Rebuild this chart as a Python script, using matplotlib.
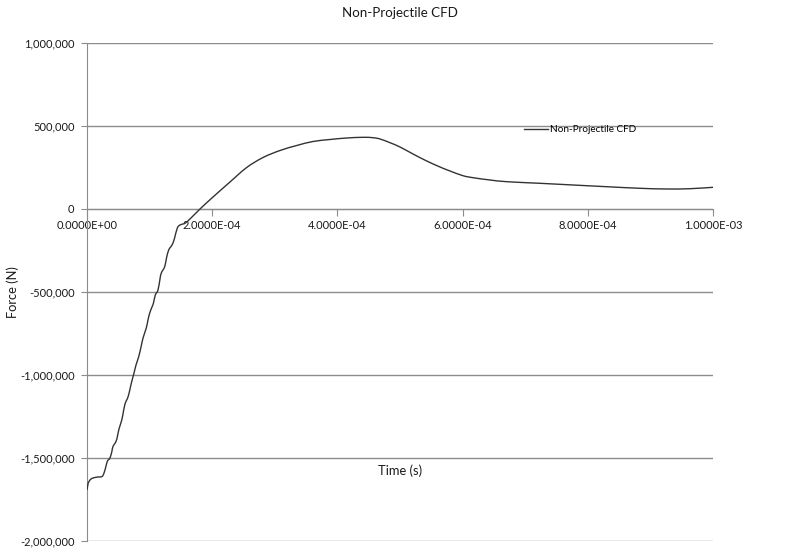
import matplotlib
matplotlib.use("Agg")
import matplotlib.pyplot as plt
from matplotlib.path import Path
from matplotlib.patches import PathPatch
from matplotlib.lines import Line2D
from matplotlib.ticker import FuncFormatter, MultipleLocator

# Force history of the non-projectile CFD run
time_s = [
    0.0, 0.016e-4, 0.032e-4, 0.064e-4, 0.112e-4, 0.176e-4, 0.240e-4, 0.272e-4,
    0.304e-4, 0.327e-4, 0.367e-4, 0.399e-4, 0.415e-4, 0.463e-4, 0.487e-4,
    0.511e-4, 0.551e-4, 0.575e-4, 0.607e-4, 0.655e-4, 0.687e-4, 0.714e-4,
    0.751e-4, 0.783e-4, 0.826e-4, 0.863e-4, 0.895e-4, 0.947e-4, 0.974e-4,
    1.002e-4, 1.038e-4, 1.062e-4, 1.091e-4, 1.134e-4, 1.166e-4, 1.187e-4,
    1.241e-4, 1.270e-4, 1.305e-4, 1.358e-4, 1.390e-4, 1.411e-4, 1.438e-4,
    1.462e-4, 1.513e-4, 1.565e-4, 1.645e-4, 1.805e-4, 2.013e-4, 2.284e-4,
    2.551e-4, 2.812e-4, 3.083e-4, 3.350e-4, 3.610e-4, 3.882e-4, 4.149e-4,
    4.409e-4, 4.569e-4, 4.681e-4, 4.840e-4, 5.000e-4, 5.208e-4, 5.427e-4,
    5.639e-4, 5.799e-4, 6.006e-4, 6.166e-4, 6.438e-4, 6.705e-4, 7.236e-4,
    7.764e-4, 8.302e-4, 8.834e-4, 9.260e-4, 9.633e-4, 10.0e-4,
]
force_n = [
    -1692800, -1656600, -1641600, -1626500, -1618700, -1614500, -1611400,
    -1590400, -1548200, -1518100, -1500000, -1457800, -1430700, -1400600,
    -1367500, -1325300, -1277100, -1234900, -1174700, -1132500, -1084300,
    -1040400, -988000, -939800, -889800, -831300, -777100, -716900, -668700,
    -626500, -590400, -566300, -518100, -488000, -421700, -385500, -347600,
    -295200, -247000, -216900, -186700, -156600, -120500, -102400, -92200,
    -86100, -60200, 0, 72300, 162700, 250000, 310200, 352400, 382500, 406600,
    418700, 427700, 431900, 429500, 421700, 399400, 373500, 331300, 289200,
    253000, 228900, 200600, 188600, 174700, 164500, 154800, 144600, 134300,
    124700, 120500, 122300, 130700,
]

series_name = "Non-Projectile CFD"
chart_title = "Non-Projectile CFD"
x_title = "Time (s)"
y_title = "Force (N)"

plt.rcParams["font.family"] = ["Lato", "DejaVu Sans"]

W, H = 798, 548
fig = plt.figure(figsize=(W / 100, H / 100), dpi=100)
ax = fig.add_axes([87 / W, 1 - 541 / H, (713 - 87) / W, (541 - 43) / H])

grid_c = "#8c8c8c"
text_c = "#1a1a1a"
line_c = "#333333"


def smooth_path(xs, ys, tension=1 / 6):
    """Smoothed line through the samples (cubic Bezier segments)."""
    n = len(xs)
    verts = [(xs[0], ys[0])]
    codes = [Path.MOVETO]
    for i in range(n - 1):
        x0, y0 = xs[max(i - 1, 0)], ys[max(i - 1, 0)]
        x1, y1 = xs[i], ys[i]
        x2, y2 = xs[i + 1], ys[i + 1]
        x3, y3 = xs[min(i + 2, n - 1)], ys[min(i + 2, n - 1)]
        c1 = (x1 + (x2 - x0) * tension, y1 + (y2 - y0) * tension)
        c2 = (x2 - (x3 - x1) * tension, y2 - (y3 - y1) * tension)
        verts += [c1, c2, (x2, y2)]
        codes += [Path.CURVE4] * 3
    return Path(verts, codes)


ax.set_xlim(0, 1.0e-3)
ax.set_ylim(-2_000_000, 1_000_000)

ax.add_patch(PathPatch(smooth_path(time_s, force_n), facecolor="none",
                       edgecolor=line_c, lw=1.0, joinstyle="round",
                       transform=ax.transData, zorder=3))

ax.xaxis.set_major_locator(MultipleLocator(2e-4))
ax.yaxis.set_major_locator(MultipleLocator(500_000))
ax.xaxis.set_major_formatter(FuncFormatter(lambda v, p: f"{v:.4E}"))
ax.yaxis.set_major_formatter(FuncFormatter(lambda v, p: f"{v:,.0f}"))

ax.grid(axis="y", color=grid_c, lw=1.0)
ax.set_axisbelow(True)

for s in ("top", "right"):
    ax.spines[s].set_visible(False)
ax.spines["left"].set_color(grid_c)
ax.spines["bottom"].set_color(grid_c)
ax.spines["bottom"].set_position(("data", 0))

ax.tick_params(axis="x", direction="out", length=5, color=grid_c,
               labelsize=8, labelcolor=text_c, pad=3)
ax.tick_params(axis="y", direction="out", length=4, color=grid_c,
               labelsize=8, labelcolor=text_c, pad=5)

fig.text(400 / W, 1 - 13 / H, chart_title, ha="center", va="center",
         fontsize=9.6, color=text_c)
fig.text(400 / W, 1 - 471 / H, x_title, ha="center", va="center",
         fontsize=9.3, color=text_c)
fig.text(13 / W, 1 - 292 / H, y_title, ha="center", va="center",
         rotation=90, fontsize=9.3, color=text_c)

handle = Line2D([], [], color=line_c, lw=1.0)
ax.legend([handle], [series_name], loc="center left",
          bbox_to_anchor=(524 / W, 1 - 130 / H),
          bbox_transform=fig.transFigure, frameon=False, fontsize=7.2,
          handlelength=2.4, handletextpad=0.25, borderpad=0,
          borderaxespad=0)

fig.savefig("out.png", dpi=100)
